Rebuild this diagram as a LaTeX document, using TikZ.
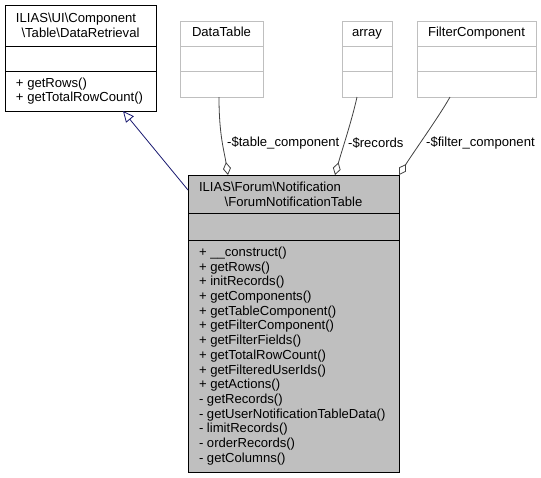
\documentclass[tikz,border=0pt]{standalone}
\usepackage{fontspec}
\setmainfont{Liberation Sans}
\usetikzlibrary{arrows.meta,positioning}
\definecolor{boxgrey}{HTML}{BFBFBF}
\definecolor{edgegrey}{HTML}{404040}
\definecolor{inhblue}{HTML}{191970}

\begin{document}
\begin{tikzpicture}[x=1pt,y=-1pt,
	font=\fontsize{13.1}{14.7}\selectfont,
	box/.style={draw=black, line width=1pt, anchor=north west, inner sep=0pt, outer sep=0pt},
	greybox/.style={box, draw=boxgrey, line width=0.8pt, text height=9.5pt, text depth=3pt},
	inherit/.style={draw=inhblue, line width=0.8pt, -{Triangle[open,length=11pt,width=10pt]}},
	aggr/.style={draw=edgegrey, line width=0.8pt, {Diamond[open,length=13pt,width=8pt]}-}]
	\useasboundingbox (0,0) rectangle (541,477);
	% base class
	\path (5,5) node (dr-name) [box, inner xsep=11pt, text width=129pt, minimum height=41pt, align=center]
			{ILIAS\textbackslash UI\textbackslash Component\hfill\mbox{}\\\textbackslash Table\textbackslash DataRetrieval}
		  (5,46) node (dr-attr) [box, minimum width=151pt, minimum height=25pt] {}
		  (5,71) node (dr-meth) [box, inner xsep=11pt, text width=129pt, minimum height=40pt, align=flush left]
			{+ getRows()\\+ getTotalRowCount()};
	% member types
	\path (180,21) node (dt-name) [greybox, minimum width=83pt, minimum height=25pt] {DataTable}
		  (180,46) node (dt-attr) [greybox, minimum width=83pt, minimum height=25pt] {}
		  (180,71) node (dt-meth) [greybox, minimum width=83pt, minimum height=26pt] {};
	\path (342,21) node (ar-name) [greybox, minimum width=50pt, minimum height=25pt] {array}
		  (342,46) node (ar-attr) [greybox, minimum width=50pt, minimum height=25pt] {}
		  (342,71) node (ar-meth) [greybox, minimum width=50pt, minimum height=26pt] {};
	\path (417,21) node (fc-name) [greybox, minimum width=119pt, minimum height=25pt] {FilterComponent}
		  (417,46) node (fc-attr) [greybox, minimum width=119pt, minimum height=25pt] {}
		  (417,71) node (fc-meth) [greybox, minimum width=119pt, minimum height=26pt] {};
	% main class
	\path (188,175) node (fnt-name) [box, fill=boxgrey, inner xsep=11pt, text width=189pt, minimum height=38pt, align=center]
			{ILIAS\textbackslash Forum\textbackslash Notification\hfill\mbox{}\\\textbackslash ForumNotificationTable}
		  (188,213) node (fnt-attr) [box, fill=boxgrey, minimum width=211pt, minimum height=27pt] {}
		  (188,240) node (fnt-meth) [box, fill=boxgrey, inner xsep=11pt, text width=189pt, minimum height=232pt, align=flush left]
			{+ \_\_construct()\\+ getRows()\\+ initRecords()\\+ getComponents()\\+ getTableComponent()\\
			 + getFilterComponent()\\+ getFilterFields()\\+ getTotalRowCount()\\+ getFilteredUserIds()\\
			 + getActions()\\- getRecords()\\- getUserNotificationTableData()\\- limitRecords()\\
			 - orderRecords()\\- getColumns()};
	% edges
	\draw[inherit] ([yshift=4pt]fnt-name.west) -- ([xshift=42.5pt]dr-meth.south);
	\draw[aggr] ([xshift=-65.5pt]fnt-name.north) .. controls (224,150) and (219,135) .. ([xshift=-2.5pt]dt-meth.south);
	\draw[aggr] ([xshift=41.5pt]fnt-name.north) .. controls (342,150) and (352,120) .. ([xshift=-10pt]ar-meth.south);
	\draw[aggr] (fnt-name.north east) .. controls (415,150) and (440,115) .. ([xshift=-26.5pt]fc-meth.south);
	% labels
	\path (227,143) node (lbl-table) [anchor=west, inner sep=0pt] {-\$table\_component}
		  (348,143) node (lbl-records) [anchor=west, inner sep=0pt] {-\$records}
		  (426,143) node (lbl-filter) [anchor=west, inner sep=0pt] {-\$filter\_component};
\end{tikzpicture}
\end{document}
